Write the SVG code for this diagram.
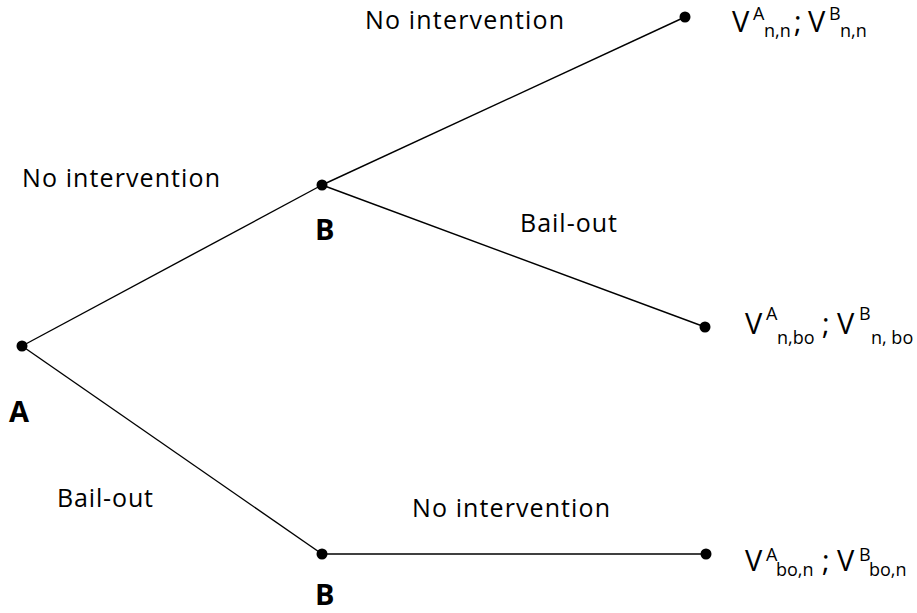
<svg xmlns="http://www.w3.org/2000/svg" width="917" height="613" viewBox="0 0 917 613">
<style>
.edge{stroke:#000;stroke-width:1.4;fill:none}
.dot{fill:#000}
.lbl{font-family:"Open Sans","Liberation Sans",sans-serif;font-size:25px;fill:#000}
.node{font-family:"Open Sans","Liberation Sans",sans-serif;font-size:29px;font-weight:bold;fill:#000}
.v{font-family:"Open Sans","Liberation Sans",sans-serif;font-size:29px;fill:#000}
.s{font-family:"Open Sans","Liberation Sans",sans-serif;font-size:18px;fill:#000}
</style>
<rect width="917" height="613" fill="#fff"/>
<g id="connectors">
<line class="edge" x1="22" y1="346" x2="322" y2="185"/>
<line class="edge" x1="322" y1="185" x2="685" y2="17"/>
<line class="edge" x1="322" y1="185" x2="705" y2="327"/>
<line class="edge" x1="22" y1="346" x2="322" y2="554"/>
<line class="edge" x1="322" y1="554" x2="706" y2="554"/>
<text class="lbl" x="365" y="29" textLength="199" lengthAdjust="spacing">No intervention</text>
<text class="lbl" x="22" y="187" textLength="198" lengthAdjust="spacing">No intervention</text>
<text class="lbl" x="520" y="232" textLength="97" lengthAdjust="spacing">Bail-out</text>
<text class="lbl" x="57" y="507" textLength="96" lengthAdjust="spacing">Bail-out</text>
<text class="lbl" x="412" y="517" textLength="198" lengthAdjust="spacing">No intervention</text>
</g>
<g id="nodeA">
<circle class="dot" cx="22" cy="346" r="5.5"/>
<text class="node" x="9" y="422">A</text>
</g>
<g id="nodeB1">
<circle class="dot" cx="322" cy="185" r="5.5"/>
<text class="node" x="315" y="240">B</text>
</g>
<g id="nodeB2">
<circle class="dot" cx="322" cy="554" r="5.5"/>
<text class="node" x="315" y="605">B</text>
</g>
<g id="leafNN">
<circle class="dot" cx="685" cy="17" r="5.5"/>
<text class="v" x="732" y="32">V</text>
<text class="s" x="753" y="20">A</text>
<text class="s" x="764" y="37">n,n</text>
<text class="v" x="794" y="32">;</text>
<text class="v" x="808" y="32">V</text>
<text class="s" x="829" y="20">B</text>
<text class="s" x="840" y="37">n,n</text>
</g>
<g id="leafNBO">
<circle class="dot" cx="705" cy="327" r="5.5"/>
<text class="v" x="745" y="334">V</text>
<text class="s" x="766" y="320">A</text>
<text class="s" x="777" y="344">n,bo</text>
<text class="v" x="822" y="334">;</text>
<text class="v" x="837" y="334">V</text>
<text class="s" x="859" y="320">B</text>
<text class="s" x="871" y="344">n, bo</text>
</g>
<g id="leafBON">
<circle class="dot" cx="706" cy="554" r="5.5"/>
<text class="v" x="745" y="571">V</text>
<text class="s" x="766" y="561">A</text>
<text class="s" x="776" y="576">bo,n</text>
<text class="v" x="822" y="571">;</text>
<text class="v" x="837" y="571">V</text>
<text class="s" x="859" y="561">B</text>
<text class="s" x="869" y="576">bo,n</text>
</g>
</svg>
